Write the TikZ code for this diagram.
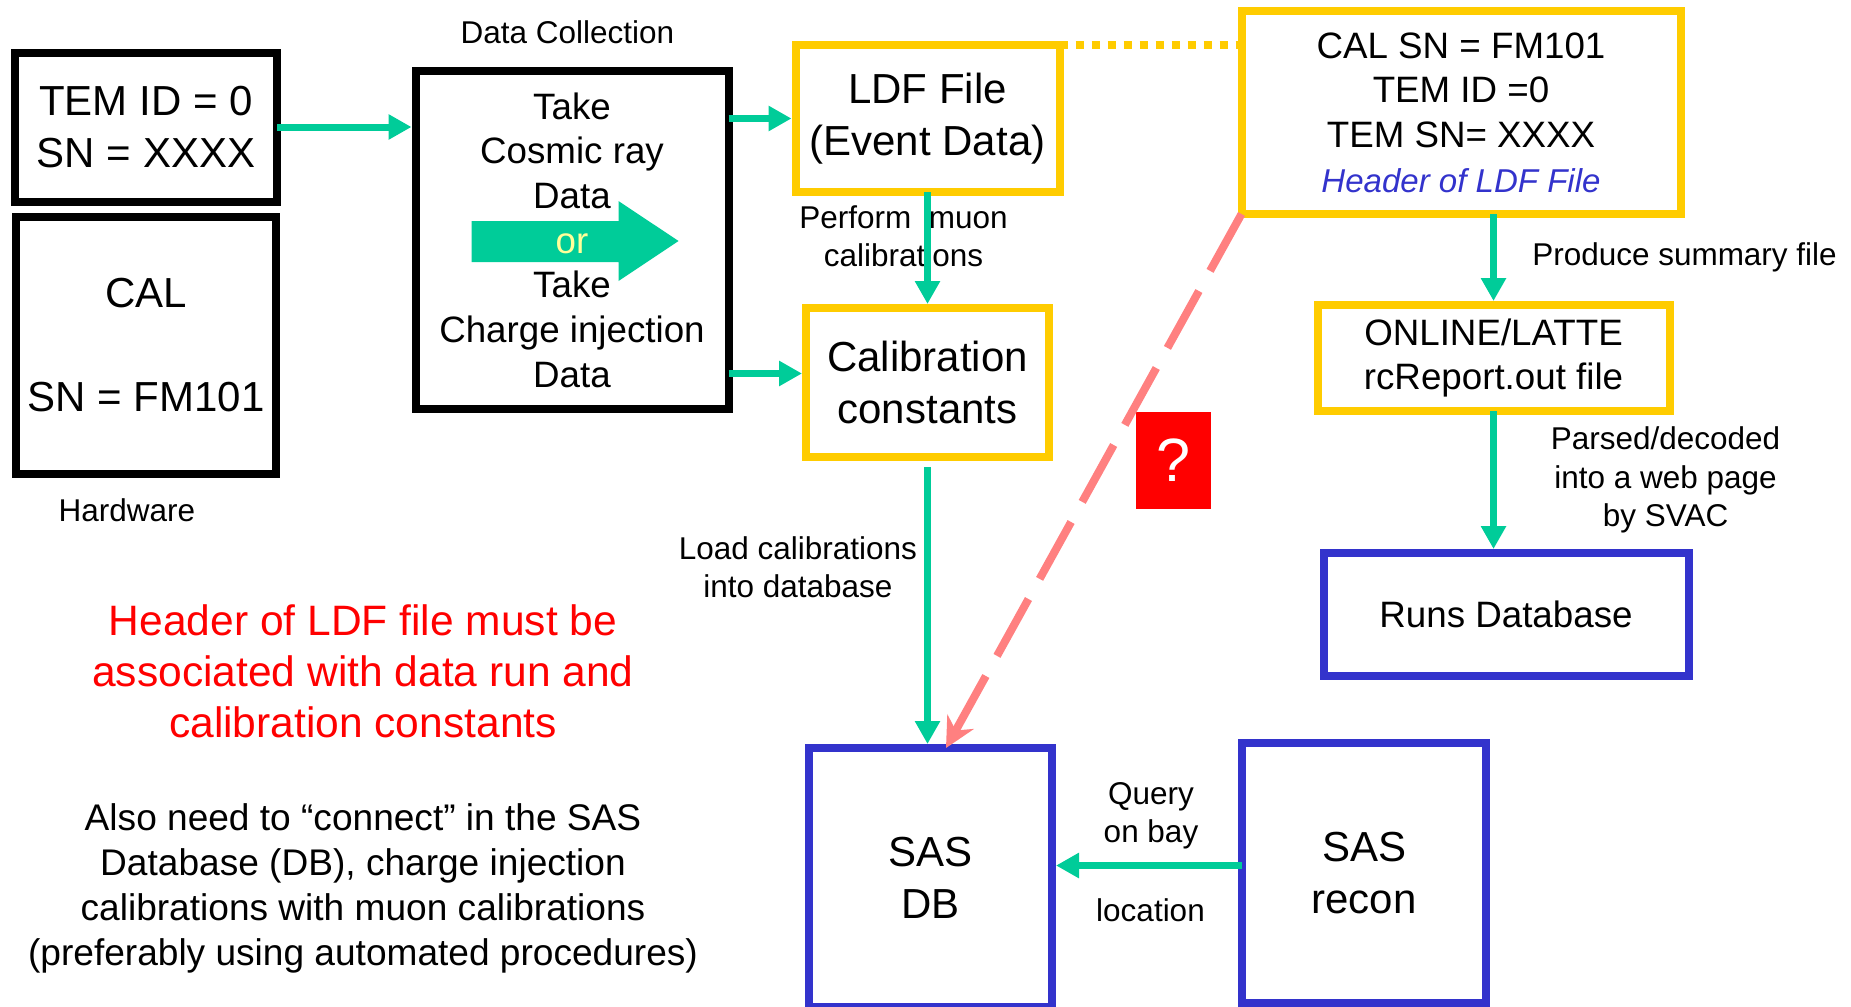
\documentclass[tikz,border=0pt]{standalone}
\usepackage{fontspec}
\setmainfont{Liberation Sans}
\usetikzlibrary{positioning,arrows.meta,calc,backgrounds}

\definecolor{flowgreen}{RGB}{0,204,153}
\definecolor{ldfyellow}{RGB}{255,204,0}
\definecolor{sasblue}{RGB}{51,51,204}
\definecolor{askpink}{RGB}{255,128,128}
\definecolor{oryellow}{RGB}{255,255,153}

\newcommand\fntL{\fontsize{11.95}{14.8}\selectfont}
\newcommand\fntM{\fontsize{10.45}{12.7}\selectfont}
\newcommand\fntP{\fontsize{10.55}{12.8}\selectfont}
\newcommand\fntS{\fontsize{8.96}{10.9}\selectfont}
\newcommand\fntH{\fontsize{9.4}{12.5}\selectfont}
\newcommand\fntR{\fontsize{12.1}{14.5}\selectfont}
\newcommand\fntQ{\fontsize{17.4}{20}\selectfont}

\begin{document}
\begin{tikzpicture}
[hw/.style={rectangle,draw=black,line width=0.8mm,inner sep=0mm,outer sep=0mm,align=center,font=\fntL},
 yl/.style={rectangle,draw=ldfyellow,line width=0.8mm,inner sep=0mm,outer sep=0mm,align=center},
 db/.style={rectangle,draw=sasblue,line width=0.8mm,inner sep=0mm,outer sep=0mm,align=center},
 lbl/.style={inner sep=0mm,align=center,font=\fntS},
 note/.style={inner sep=0mm,align=center},
 ask/.style={rectangle,fill=red,text=white,minimum width=7.45mm,minimum height=9.7mm,inner sep=0mm,font=\fntQ},
 flow/.style={draw=flowgreen,line width=0.7mm,shorten >=0.4mm,-{Triangle[length=2.3mm,width=2.4mm]}},
 askline/.style={draw=askpink,line width=0.8mm,dash pattern=on 6.5mm off 2.3mm,-{Stealth[length=3mm,width=3mm,inset=1mm]}},
 ldflink/.style={draw=ldfyellow,line width=0.8mm,dash pattern=on 0.8mm off 0.8mm}]
\useasboundingbox (0,0) rectangle (18.51,10.06);

\node[hw,minimum width=26.2mm,minimum height=14.9mm] (tem) at (1.46,8.79) {TEM ID = 0\\SN = XXXX};
\node[hw,minimum width=25.95mm,minimum height=25.7mm] (cal) [on grid,below=21.8mm of tem] {CAL\\[\baselineskip]SN = FM101};
\node[lbl] (hwlbl) [on grid,below left=16.5mm and 1.9mm of cal] {Hardware};
\node[hw,font=\fntM,minimum width=31.3mm,minimum height=33.8mm] (dc) [on grid,below right=11.3mm and 42.6mm of tem]
  {Take\\Cosmic ray\\Data\\\textcolor{oryellow}{or}\\Take\\Charge injection\\Data};
\node[lbl] (dclbl) [on grid,above left=20.8mm and 0.45mm of dc] {Data Collection};
\begin{scope}[on background layer,shift={(dc.center)}]
\fill[flowgreen] (-1.005,0.19) -- (0.465,0.19) -- (0.465,0.39) -- (1.065,-0.01)
  -- (0.465,-0.41) -- (0.465,-0.22) -- (-1.005,-0.22) -- cycle;
\end{scope}

\node[yl,font=\fntL,minimum width=26.4mm,minimum height=14.7mm] (ldf) [on grid,above right=12.15mm and 35.55mm of dc] {LDF File\\(Event Data)};
\node[yl,font=\fntL,minimum width=24.3mm,minimum height=14.9mm] (calc) [on grid,below=26.4mm of ldf] {Calibration\\constants};
\node[yl,font=\fntM,minimum width=43.9mm,minimum height=20.3mm] (hdr) [on grid,above right=0.6mm and 53.35mm of ldf]
  {CAL SN = FM101\\TEM ID =0\\TEM SN= XXXX\\\textcolor{sasblue}{\fntH\itshape Header of LDF File}};
\node[yl,font=\fntM,minimum width=35.2mm,minimum height=10.6mm] (online) [on grid,below right=24.55mm and 3.25mm of hdr] {ONLINE/LATTE\\rcReport.out file};
\node[db,font=\fntM,minimum width=36.5mm,minimum height=12.3mm] (runs) [on grid,below right=25.65mm and 1.25mm of online] {Runs Database};
\node[db,font=\fntL,minimum width=24.3mm,minimum height=25.9mm] (sasdb) [on grid,below right=49.5mm and 0.3mm of calc] {SAS\\DB};
\node[db,font=\fntL,minimum width=24.35mm,minimum height=26mm] (sasrec) [on grid,above right=0.45mm and 43.35mm of sasdb] {SAS\\recon};
\node[ask] (qmark) [on grid,below right=7.8mm and 24.6mm of calc] {?};

\node[lbl] (perflbl) [on grid,below left=11.75mm and 2.4mm of ldf] {Perform~ muon\\calibrations};
\node[lbl] (loadlbl) [on grid,below left=18.45mm and 12.95mm of calc] {Load calibrations\\into database};
\node[lbl] (prodlbl) [on grid,below right=14.45mm and 22.35mm of hdr] {Produce summary file};
\node[lbl] (parslbl) [on grid,below right=12.2mm and 17.2mm of online] {Parsed/decoded\\into a web page\\by SVAC};
\node[lbl] (querylbl) [on grid,above left=5.75mm and 21.3mm of sasrec] {Query\\on bay};
\node[lbl] (loclbl) [on grid,below left=3.7mm and 21.35mm of sasrec] {location};

\node[note,text=red,font=\fntR] (mustnote) [on grid,below right=32.65mm and 21.7mm of cal]
  {Header of LDF file must be\\associated with data run and\\calibration constants};
\node[note,font=\fntP] (alsonote) [on grid,below=21.65mm of mustnote]
  {Also need to “connect” in the SAS\\Database (DB), charge injection\\calibrations with muon calibrations\\(preferably using automated procedures)};

\draw[flow] (tem.east) -- (tem.east -| dc.west);
\draw[flow] (dc.east |- ldf.west) -- (ldf.west);
\draw[flow] ($(dc.east |- calc.west)+(0,0.9mm)$) -- ($(calc.west)+(0,0.9mm)$);
\draw[flow] (ldf.south -| calc.north) -- (calc.north);
\draw[flow,shorten <=1mm] (calc.south) -- (calc.south |- sasdb.north);
\draw[flow] (hdr.south -| online.north) -- (online.north);
\draw[flow] (online.south) -- (online.south |- runs.north);
\draw[flow] ($(sasrec.west)+(0,0.75mm)$) -- ($(sasrec.west -| sasdb.east)+(0,0.75mm)$);
\draw[askline] (hdr.south west) -- ($(sasdb.north)+(1.55mm,0)$);
\draw[ldflink] (ldf.north east) -- (ldf.north east -| hdr.west);
\end{tikzpicture}
\end{document}
